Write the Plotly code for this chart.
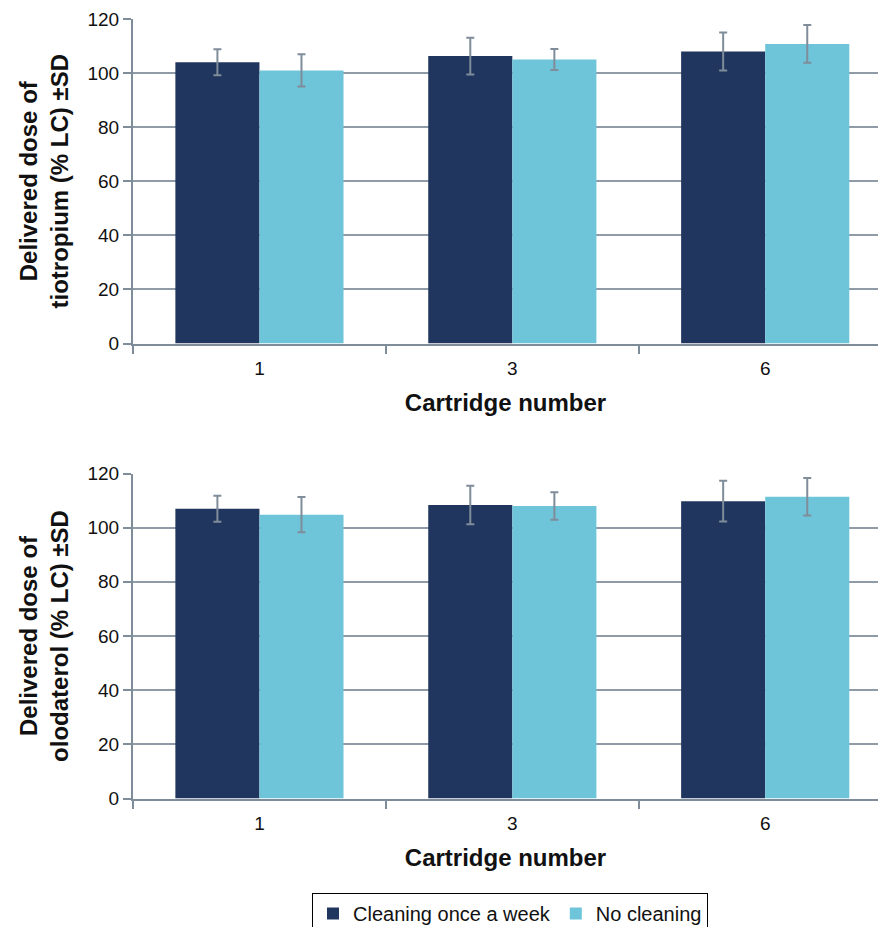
import plotly.graph_objects as go

categories = ["1", "3", "6"]
series_names = ["Cleaning once a week", "No cleaning"]

tio_clean = [104, 106.3, 108]
tio_clean_sd = [4.8, 6.8, 7.0]
tio_none = [101, 105, 110.8]
tio_none_sd = [6.0, 3.9, 7.0]

olo_clean = [107, 108.4, 109.8]
olo_clean_sd = [4.8, 7.1, 7.5]
olo_none = [104.8, 108, 111.4]
olo_none_sd = [6.5, 5.1, 6.9]

y_title_top = "Delivered dose of<br>tiotropium (% LC) ±SD"
y_title_bot = "Delivered dose of<br>olodaterol (% LC) ±SD"
x_title = "Cartridge number"

dark = "#21365f"
light = "#6ec5da"
axis_gray = "#7f8c99"
grid_gray = "#8f9ba7"
font_family = "Liberation Sans, Arial, sans-serif"

W, H = 878, 927
fig = go.Figure()

def add_pair(vals_a, sd_a, vals_b, sd_b, xa, ya, showlegend):
    for name, vals, sd, col in [(series_names[0], vals_a, sd_a, dark), (series_names[1], vals_b, sd_b, light)]:
        fig.add_trace(go.Bar(
            x=categories, y=vals, name=name, marker=dict(color=col, line=dict(width=0)),
            error_y=dict(type="data", array=sd, visible=True, color=axis_gray, thickness=2, width=4),
            xaxis=xa, yaxis=ya, showlegend=showlegend, legendgroup=name,
        ))

add_pair(tio_clean, tio_clean_sd, tio_none, tio_none_sd, "x", "y", True)
add_pair(olo_clean, olo_clean_sd, olo_none, olo_none_sd, "x2", "y2", False)

left = 133
plot_w = W - left
def py(pix):
    return (H - pix) / H

title_font = dict(size=24, color="#111", family=font_family, weight="bold")
tick_font = dict(size=19, color="#111", family=font_family)

xaxis_common = dict(
    type="category", range=[-0.5, 2.446], tickson="boundaries", ticks="outside", ticklen=8,
    tickwidth=2, tickcolor=axis_gray, showline=True, linecolor=axis_gray, linewidth=2,
    showgrid=False, tickfont=tick_font, ticklabelstandoff=7,
    title=dict(text=x_title, font=title_font, standoff=16),
    domain=[0, 1], zeroline=False,
)
yaxis_common = dict(
    range=[0, 120], dtick=20, ticks="outside", ticklen=8, tickwidth=2, tickcolor=axis_gray,
    showline=True, linecolor=axis_gray, linewidth=2, showgrid=True, gridcolor=grid_gray, gridwidth=1.5,
    tickfont=tick_font, zeroline=False,
)

fig.update_layout(
    width=W, height=H,
    margin=dict(l=left, r=0, t=0, b=0, autoexpand=False),
    paper_bgcolor="white", plot_bgcolor="white",
    barmode="group", bargap=0.335, bargroupgap=0,
    font=dict(family=font_family),
    xaxis=dict(**xaxis_common, anchor="y"),
    xaxis2=dict(**xaxis_common, anchor="y2"),
    yaxis=dict(**yaxis_common, anchor="x", domain=[py(343.5), py(19)],
               title=dict(text=y_title_top, font=title_font, standoff=12)),
    yaxis2=dict(**yaxis_common, anchor="x2", domain=[py(798.5), py(473.5)],
                title=dict(text=y_title_bot, font=title_font, standoff=12)),
    legend=dict(orientation="h", x=(510 - left) / plot_w, xanchor="center", y=py(893), yanchor="top",
                bordercolor="#000", borderwidth=1, bgcolor="white",
                font=dict(size=20, color="#111", family=font_family), itemwidth=30, traceorder="normal"),
)

fig.write_html("out.html", config={"displayModeBar": False},
               post_script="document.body.style.margin='0px';document.body.style.padding='0px';")
